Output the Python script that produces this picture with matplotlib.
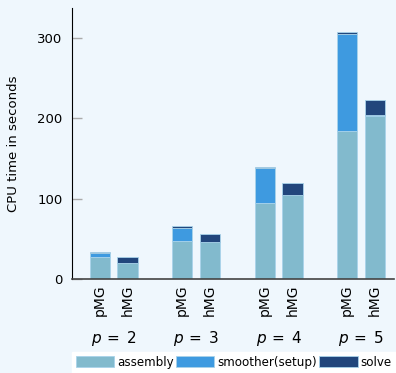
import numpy as np
import matplotlib
matplotlib.use("Agg")
import matplotlib.pyplot as plt

# ─────────────────────────────────────────────
# Data
# ─────────────────────────────────────────────
degrees = [2, 3, 4, 5]
methods = ["pMG", "hMG"]
# seconds, per degree, stacked
pmg_assembly = [27, 47, 94, 184]
pmg_smoother = [5, 17, 43.5, 120.5]
pmg_solve = [1, 1.5, 2, 2]
hmg_assembly = [20, 46, 104, 203]
hmg_smoother = [0.5, 0.5, 0.5, 0.5]
hmg_solve = [6.5, 9.5, 15, 19.5]

BG = "#eff7fd"
C_ASM = "#82bacd"
C_SMO = "#3e9ae0"
C_SOL = "#22467c"
EDGE = "#a9d3ea"

fig = plt.figure(figsize=(3.96, 3.73), dpi=100, facecolor=BG)
ax = fig.add_axes([0.182, 0.252, 0.813, 0.727], facecolor=BG)

x = np.arange(len(degrees))
off = 0.168
w = 0.245

series = [
    (pmg_assembly, pmg_smoother, pmg_solve, x - off),
    (hmg_assembly, hmg_smoother, hmg_solve, x + off),
]
for i, (a, s, v, xs) in enumerate(series):
    a = np.array(a); s = np.array(s); v = np.array(v)
    kw = dict(width=w, edgecolor=EDGE, linewidth=0.6)
    ax.bar(xs, a, color=C_ASM, label="assembly" if i == 0 else None, **kw)
    ax.bar(xs, s, bottom=a, color=C_SMO, label="smoother(setup)" if i == 0 else None, **kw)
    ax.bar(xs, v, bottom=a + s, color=C_SOL, label="solve" if i == 0 else None, **kw)

ax.set_xlim(-0.503, 3.40)
ax.set_ylim(0, 337)
ax.set_yticks([0, 100, 200, 300])
ax.tick_params(axis="y", labelsize=9.5, color="#aaaaaa", direction="in",
               length=7, width=1, pad=7)

xt = np.sort(np.concatenate([x - off, x + off]))
ax.set_xticks(xt)
ax.set_xticklabels([m for _ in degrees for m in methods], rotation=90, fontsize=10)
ax.tick_params(axis="x", length=0, pad=4)

for xi, d in zip(x, degrees):
    ax.text(xi, -0.22, rf"$p\:=\:{d}$", transform=ax.get_xaxis_transform(),
            ha="center", va="center", fontsize=11)

ax.spines["top"].set_visible(False)
ax.spines["right"].set_visible(False)
ax.spines["left"].set_color("black")
ax.spines["bottom"].set_color("#444444")
ax.spines["bottom"].set_linewidth(1.2)

ax.set_ylabel("CPU time in seconds", fontsize=9.5, labelpad=12)

leg = fig.legend(loc="lower right", bbox_to_anchor=(1.0, 0.0), ncol=3, fontsize=8.6,
                 frameon=True, fancybox=False, handlelength=3.2, handleheight=1.1,
                 handletextpad=0.25, columnspacing=0.2, borderpad=0.35,
                 borderaxespad=0.0)
leg.get_frame().set_facecolor("white")
leg.get_frame().set_edgecolor("white")
leg.get_frame().set_alpha(1.0)

fig.savefig("out.png", dpi=100, facecolor=BG)
